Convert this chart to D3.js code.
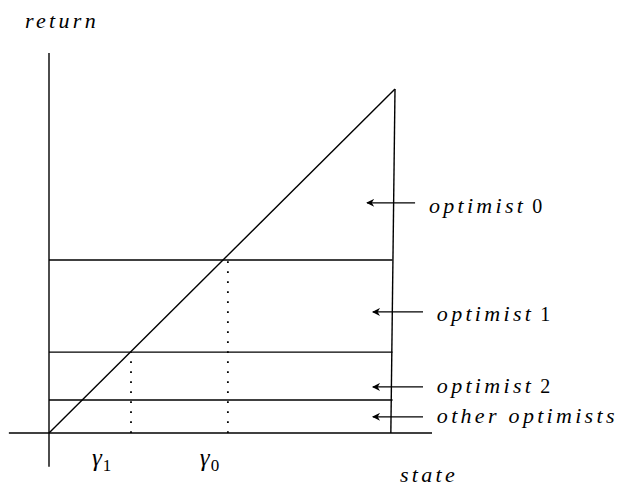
<!DOCTYPE html>
<html>
<head>
<meta charset="utf-8">
<script src="https://cdn.jsdelivr.net/npm/d3@7"></script>
</head>
<body style="margin:0; background:#fff">
<div id="chart"></div>
<script>
// return levels of the horizontal bands (return units, 0..1 = origin..top of diagonal)
var levels = [0.503, 0.235, 0.096];
// thresholds gamma_0, gamma_1 on the state axis
var gammaNames = ["0", "1"];
var gammaValues = [0.517, 0.237];
var gammaLevels = [0.503, 0.235];
var gammaLabelX = [0.436, 0.124];

// labels on the right
var groupNames = ["optimist", "optimist", "optimist", "other optimists"];
var groupIndex = ["0", "1", "2", ""];
var arrowY = [0.669, 0.352, 0.134, 0.047];
var arrowTip = [0.919, 0.936, 0.936, 0.936];
var arrowTail = [1.058, 1.081, 1.081, 1.081];
var labelX = [1.098, 1.121, 1.121, 1.121];
var labelY = [0.640, 0.326, 0.116, 0.029];

// diagonal and the slanted right edge
var diagonal = [[0, 0], [1, 1]];
var rightEdge = [[1, 1], [0.988, 0]];
var levelEnd = 0.993;

var width = 624, height = 490;
var font = "'Liberation Serif', 'Times New Roman', serif";

var svg = d3.select("#chart")
    .append("svg")
    .attr("width", width)
    .attr("height", height);

var xScale = d3.scaleLinear().domain([0, 1]).range([49, 395]);
var yScale = d3.scaleLinear().domain([0, 1]).range([433, 89]);

var defs = svg.append("defs");
defs.append("marker")
    .attr("id", "head")
    .attr("viewBox", "0 0 10 10")
    .attr("refX", 9)
    .attr("refY", 5)
    .attr("markerWidth", 12)
    .attr("markerHeight", 8)
    .attr("markerUnits", "userSpaceOnUse")
    .attr("orient", "auto")
    .append("path")
    .attr("d", "M0,0 L10,5 L0,10 L3,5 Z")
    .attr("fill", "#000");

var line = d3.line()
    .x(function(d) { return xScale(d[0]); })
    .y(function(d) { return yScale(d[1]); });

var stroke = "#000";
var sw = 1.4;

// axes (plain lines, no ticks)
svg.append("line")
    .attr("x1", xScale(-0.116)).attr("x2", xScale(1.107))
    .attr("y1", yScale(0)).attr("y2", yScale(0))
    .attr("stroke", stroke).attr("stroke-width", sw);

svg.append("line")
    .attr("x1", xScale(0)).attr("x2", xScale(0))
    .attr("y1", yScale(-0.098)).attr("y2", yScale(1.105))
    .attr("stroke", stroke).attr("stroke-width", sw);

// horizontal bands
svg.selectAll(".level")
    .data(levels)
    .enter()
    .append("line")
    .attr("class", "level")
    .attr("x1", xScale(0))
    .attr("x2", xScale(levelEnd))
    .attr("y1", function(d) { return yScale(d); })
    .attr("y2", function(d) { return yScale(d); })
    .attr("stroke", stroke)
    .attr("stroke-width", sw);

svg.append("path")
    .attr("d", line(diagonal))
    .attr("fill", "none")
    .attr("stroke", stroke)
    .attr("stroke-width", sw);

svg.append("path")
    .attr("d", line(rightEdge))
    .attr("fill", "none")
    .attr("stroke", stroke)
    .attr("stroke-width", sw);

// dotted verticals
svg.selectAll(".gline")
    .data(gammaValues)
    .enter()
    .append("line")
    .attr("class", "gline")
    .attr("x1", function(d) { return xScale(d); })
    .attr("x2", function(d) { return xScale(d); })
    .attr("y1", yScale(0))
    .attr("y2", function(d, i) { return yScale(gammaLevels[i]); })
    .attr("stroke", "#000")
    .attr("stroke-width", 1.8)
    .attr("stroke-dasharray", "1.8,8.2");

// gamma labels
var gl = svg.selectAll(".glabel")
    .data(gammaNames)
    .enter()
    .append("text")
    .attr("class", "glabel")
    .attr("x", function(d, i) { return xScale(gammaLabelX[i]); })
    .attr("y", 466)
    .attr("font-family", font)
    .attr("font-size", 25);
gl.append("tspan").attr("font-style", "italic").text("γ");
gl.append("tspan")
    .attr("dy", 5)
    .attr("dx", 1)
    .attr("font-size", 17)
    .text(function(d) { return d; });

// arrows
svg.selectAll(".arrow")
    .data(arrowY)
    .enter()
    .append("line")
    .attr("class", "arrow")
    .attr("x1", function(d, i) { return xScale(arrowTail[i]); })
    .attr("x2", function(d, i) { return xScale(arrowTip[i]); })
    .attr("y1", function(d) { return yScale(d); })
    .attr("y2", function(d) { return yScale(d); })
    .attr("stroke", stroke)
    .attr("stroke-width", sw)
    .attr("marker-end", "url(#head)");

var lab = svg.selectAll(".glab")
    .data(groupNames)
    .enter()
    .append("text")
    .attr("class", "glab")
    .attr("x", function(d, i) { return xScale(labelX[i]); })
    .attr("y", function(d, i) { return yScale(labelY[i]); })
    .attr("font-family", font)
    .attr("font-size", 22);
lab.append("tspan")
    .attr("font-style", "italic")
    .attr("letter-spacing", 3.3)
    .text(function(d) { return d; });
lab.append("tspan")
    .attr("dx", 6)
    .attr("font-size", 20)
    .text(function(d, i) { return groupIndex[i]; });

// axis titles
svg.append("text")
    .attr("x", 25)
    .attr("y", 28)
    .attr("font-family", font)
    .attr("font-style", "italic")
    .attr("font-size", 22)
    .attr("letter-spacing", 3.3)
    .text("return");

svg.append("text")
    .attr("x", 400)
    .attr("y", 482)
    .attr("font-family", font)
    .attr("font-style", "italic")
    .attr("font-size", 22)
    .attr("letter-spacing", 3.3)
    .text("state");
</script>
</body>
</html>
